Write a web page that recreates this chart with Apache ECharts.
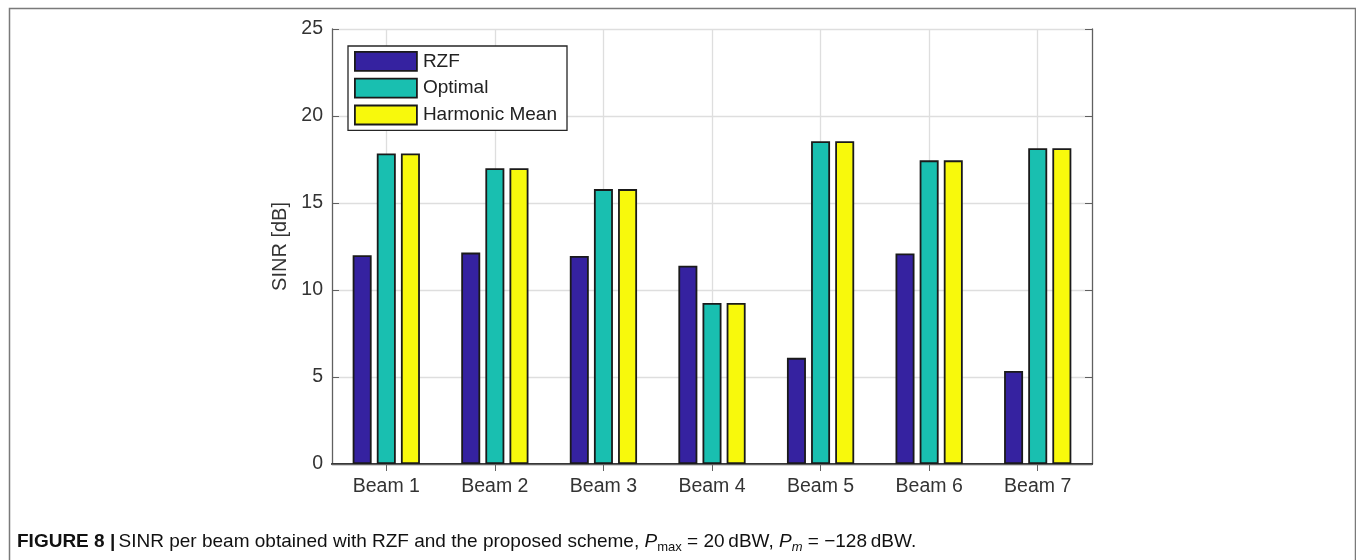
<!DOCTYPE html>
<html>
<head>
<meta charset="utf-8">
<script src="https://cdn.jsdelivr.net/npm/echarts@6/dist/echarts.min.js"></script>
<style>
html,body{margin:0;padding:0;background:#fff;}
#chart{width:1356px;height:560px;}
</style>
</head>
<body>
<div id="chart"></div>
<script>
var categories = ['Beam 1','Beam 2','Beam 3','Beam 4','Beam 5','Beam 6','Beam 7'];
var rzf = [12.0, 12.15, 11.95, 11.4, 6.1, 12.1, 5.35];
var optimal = [17.85, 17.0, 15.8, 9.25, 18.55, 17.45, 18.15];
var harmonicMean = [17.85, 17.0, 15.8, 9.25, 18.55, 17.45, 18.15];
var seriesNames = ['RZF','Optimal','Harmonic Mean'];
var yTicks = {min: 0, max: 25, interval: 5};

var colors = ['#3522a0', '#19bfb0', '#f8f90c'];
var chart = echarts.init(document.getElementById('chart'), null, {renderer: 'canvas'});
var font = 'Liberation Sans, Arial, sans-serif';
var gridColor = '#dedede';
var frameColor = '#606060';

function barSeries(name, data, i) {
  return {
    name: name, type: 'bar', data: data,
    barWidth: 19, barGap: '27%',
    xAxisIndex: 0, yAxisIndex: 0,
    itemStyle: {color: colors[i], borderColor: '#1a1a1a', borderWidth: 1.8},
    emphasis: {disabled: true}, z: 3
  };
}

var option = {
  animation: false,
  backgroundColor: '#fff',
  grid: {left: 332, right: 264, top: 29, bottom: 96, containLabel: false},
  legend: {
    data: seriesNames, orient: 'vertical', left: 348, top: 46,
    icon: 'rect', itemWidth: 62, itemHeight: 19, itemGap: 6,
    padding: [5, 10, 5, 6],
    borderColor: '#262626', borderWidth: 1.3, backgroundColor: '#fff',
    textStyle: {fontFamily: font, fontSize: 19, lineHeight: 19, color: '#222', padding: [0,0,0,1]},
    itemStyle: {borderColor: '#1a1a1a', borderWidth: 1.8},
    z: 10
  },
  xAxis: [{
    type: 'category', data: categories, position: 'bottom',
    axisLine: {show: true, lineStyle: {color: '#2a2a2a', width: 2.2}},
    axisTick: {show: true, inside: true, alignWithLabel: true, length: 7, lineStyle: {color: frameColor}},
    axisLabel: {fontFamily: font, fontSize: 19.5, color: '#333', margin: 13},
    splitLine: {show: true, alignWithLabel: true, lineStyle: {color: gridColor, width: 1.3}}
  }, {
    type: 'category', data: categories, position: 'top',
    axisLine: {show: true, lineStyle: {color: frameColor, width: 1.3}},
    axisTick: {show: true, inside: true, alignWithLabel: true, length: 7, lineStyle: {color: frameColor}},
    axisLabel: {show: false}, splitLine: {show: false}
  }],
  yAxis: [{
    type: 'value', min: yTicks.min, max: yTicks.max, interval: yTicks.interval,
    name: 'SINR [dB]', nameLocation: 'middle', nameGap: 41,
    nameTextStyle: {fontFamily: font, fontSize: 20, color: '#333'},
    axisLine: {show: true, lineStyle: {color: frameColor, width: 1.3}},
    axisTick: {show: true, inside: true, length: 7, lineStyle: {color: frameColor}},
    axisLabel: {fontFamily: font, fontSize: 19.5, color: '#333', margin: 9},
    splitLine: {show: true, lineStyle: {color: gridColor, width: 1.3}}
  }, {
    type: 'value', min: yTicks.min, max: yTicks.max, interval: yTicks.interval, position: 'right',
    axisLine: {show: true, lineStyle: {color: frameColor, width: 1.3}},
    axisTick: {show: true, inside: true, length: 7, lineStyle: {color: frameColor}},
    axisLabel: {show: false}, splitLine: {show: false}
  }],
  series: [
    barSeries(seriesNames[0], rzf, 0),
    barSeries(seriesNames[1], optimal, 1),
    barSeries(seriesNames[2], harmonicMean, 2)
  ],
  graphic: [
    {type: 'rect', left: 7, top: 6, shape: {width: 1346, height: 600},
     style: {fill: null, stroke: '#7a7a7a', lineWidth: 1.5}, silent: true, z: 0},
    {type: 'text', left: 17, top: 532, silent: true,
     style: {
       text: '{b|FIGURE 8 |} {r|SINR per beam obtained with RZF and the proposed scheme, }{i|P}{s|max}{r| = 20\u2009dBW, }{i|P}{si|m}{r| = \u2212128\u2009dBW.}',
       rich: {
         b: {fontFamily: 'Liberation Sans Narrow, Liberation Sans', fontWeight: 'bold', fontSize: 19, fill: '#111', lineHeight: 24},
         r: {fontFamily: 'Liberation Sans Narrow, Liberation Sans', fontSize: 19, fill: '#111', lineHeight: 24},
         i: {fontFamily: 'Liberation Sans Narrow, Liberation Sans', fontStyle: 'italic', fontSize: 19, fill: '#111', lineHeight: 24},
         s: {fontFamily: 'Liberation Sans Narrow, Liberation Sans', fontSize: 13, fill: '#111', lineHeight: 14, verticalAlign: 'bottom'},
         si: {fontFamily: 'Liberation Sans Narrow, Liberation Sans', fontStyle: 'italic', fontSize: 13, fill: '#111', lineHeight: 14, verticalAlign: 'bottom'}
       }
     }}
  ]
};
chart.setOption(option);
</script>
</body>
</html>
